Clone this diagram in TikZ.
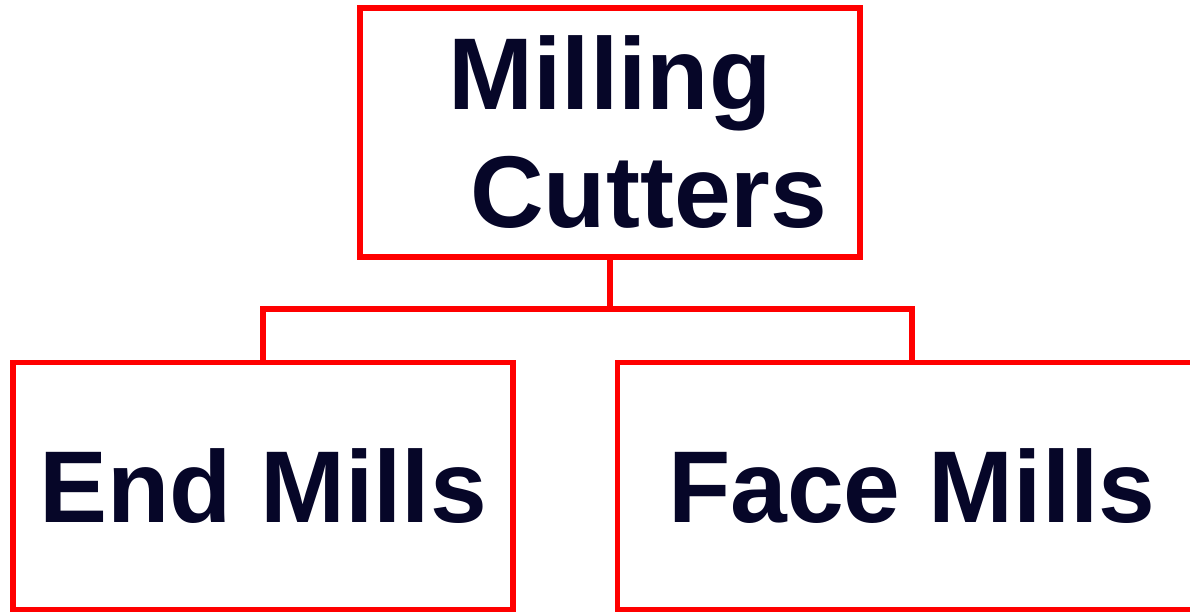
\documentclass[tikz,border=0pt]{standalone}
\usepackage{fontspec}
\setmainfont{Liberation Sans}
\usetikzlibrary{positioning}
\definecolor{cLine}{HTML}{FF0000}
\definecolor{cText}{HTML}{060628}
\tikzset{
  box/.style    ={draw=cLine, line width=5.8pt, text=cText, align=center,
                  font=\fontsize{102}{118}\selectfont\bfseries, inner sep=0pt},
  link/.style   ={draw=cLine, line width=5.8pt},
}
\begin{document}
\begin{tikzpicture}[x=1pt, y=-1pt]
\useasboundingbox (0,0) rectangle (1190,611);
\clip (0,0) rectangle (1190,611);
\fill[white] (0,0) rectangle (1190,611);

\node[box, minimum width=500pt, minimum height=249pt] (cutters) at (610,132.5)
   {Milling\\\hspace*{0.76em}Cutters};
\node[box, minimum width=500pt, minimum height=247pt] (endm) at (263,486)
   {\raisebox{-2.5pt}{End Mills}};
\node[box, minimum width=589pt, minimum height=247pt] (facem) at (912,486)
   {\raisebox{-2.5pt}{Face Mills}};

\coordinate (bus) at (610,309);
\draw[link] (cutters.south) -- (bus);
\draw[link] (endm.north) |- (bus) -| (facem.north);
\end{tikzpicture}
\end{document}
